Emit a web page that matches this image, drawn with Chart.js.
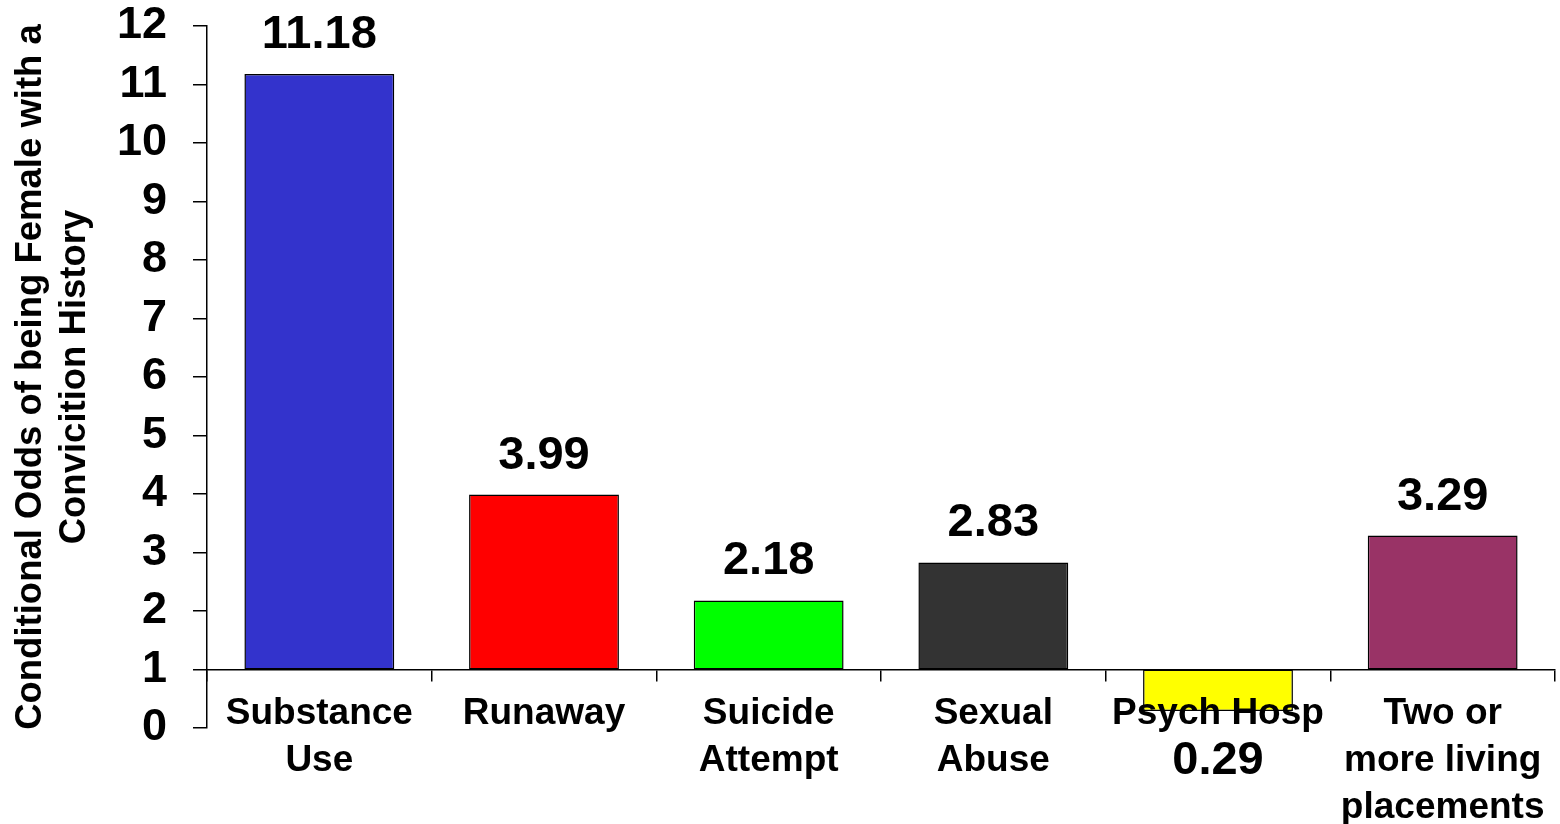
<!DOCTYPE html>
<html>
<head>
<meta charset="utf-8">
<script src="https://cdn.jsdelivr.net/npm/chart.js@4.4.1/dist/chart.umd.min.js"></script>
<style>
  html, body { margin: 0; padding: 0; background: #fff; }
  #wrap { width: 1560px; height: 824px; position: relative; }
</style>
</head>
<body>
<div id="wrap"><canvas id="oddsChart"></canvas></div>
<script>
// Categories (multi-line labels as in the original slide)
const categories = [
    ['Substance', 'Use'],
    'Runaway',
    ['Suicide', 'Attempt'],
    ['Sexual', 'Abuse'],
    'Psych Hosp',
    ['Two or', 'more living', 'placements']
];
// Conditional odds ratios; bars are drawn from the reference line at 1
const oddsValues = [11.18, 3.99, 2.18, 2.83, 0.29, 3.29];
const valueLabels = ['11.18', '3.99', '2.18', '2.83', '0.29', '3.29'];
const barColors = ['#3333CC', '#FF0000', '#00FF00', '#333333', '#FFFF00', '#993366'];
const baseline = 1;
const yTicks = [0, 1, 2, 3, 4, 5, 6, 7, 8, 9, 10, 11, 12];

const FONT = '"Liberation Sans", Arial, Helvetica, sans-serif';

// Draw value labels above the bar (or below it when the odds are under 1)
const valueLabelPlugin = {
    id: 'valueLabels',
    afterDraw(chart) {
        const meta = chart.getDatasetMeta(0);
        const ctx = chart.ctx;
        ctx.save();
        ctx.font = 'bold 47px ' + FONT;
        ctx.fillStyle = '#000';
        ctx.textAlign = 'center';
        ctx.textBaseline = 'alphabetic';
        meta.data.forEach((bar, i) => {
            const v = oddsValues[i];
            const top = Math.min(bar.y, bar.base);
            const bottom = Math.max(bar.y, bar.base);
            if (v >= baseline) {
                ctx.fillText(valueLabels[i], bar.x, top - 26);
            } else {
                ctx.fillText(valueLabels[i], bar.x, bottom + 63);
            }
        });
        ctx.restore();
    }
};

new Chart(document.getElementById('oddsChart'), {
    type: 'bar',
    data: {
        labels: categories,
        datasets: [{
            data: oddsValues.map(v => [baseline, v]),
            backgroundColor: barColors,
            borderColor: '#000',
            borderWidth: 1.5,
            borderSkipped: false,
            categoryPercentage: 1,
            barPercentage: 0.667
        }]
    },
    options: {
        responsive: true,
        maintainAspectRatio: false,
        animation: false,
        layout: { padding: { top: 26, right: 5, bottom: 96, left: 0 } },
        plugins: {
            legend: { display: false },
            tooltip: { enabled: false }
        },
        scales: {
            x: {
                position: { y: baseline },
                // category axis sits on the line at 1 and is painted over the bars
                border: { display: true, color: '#000', width: 1.5, z: 1 },
                grid: {
                    display: true,
                    offset: true,
                    drawOnChartArea: false,
                    drawTicks: true,
                    tickLength: 11,
                    color: '#000',
                    lineWidth: 1.5,
                    z: 1
                },
                ticks: {
                    z: 1,
                    color: '#000',
                    autoSkip: false,
                    maxRotation: 0,
                    minRotation: 0,
                    padding: 10,
                    font: { family: FONT, size: 37, weight: 'bold', lineHeight: 1.27 }
                }
            },
            y: {
                min: 0,
                max: 12,
                afterBuildTicks(scale) {
                    scale.ticks = yTicks.map(v => ({ value: v }));
                },
                afterFit(scale) {
                    scale.width = 207;
                    scale.paddingTop = 0;
                    scale.paddingBottom = 0;
                },
                border: { display: true, color: '#000', width: 1.5 },
                grid: {
                    display: true,
                    drawOnChartArea: false,
                    drawTicks: true,
                    tickLength: 14,
                    color: '#000',
                    lineWidth: 1.5
                },
                ticks: {
                    color: '#000',
                    padding: 26,
                    font: { family: FONT, size: 45, weight: 'bold', lineHeight: 1 }
                },
                title: {
                    display: true,
                    text: ['Conditional Odds of being Female with a', 'Convicition History'],
                    color: '#000',
                    padding: { top: 9, bottom: 0 },
                    font: { family: FONT, size: 36.5, weight: 'bold', lineHeight: 1.2 }
                }
            }
        }
    },
    plugins: [valueLabelPlugin]
});
</script>
</body>
</html>
